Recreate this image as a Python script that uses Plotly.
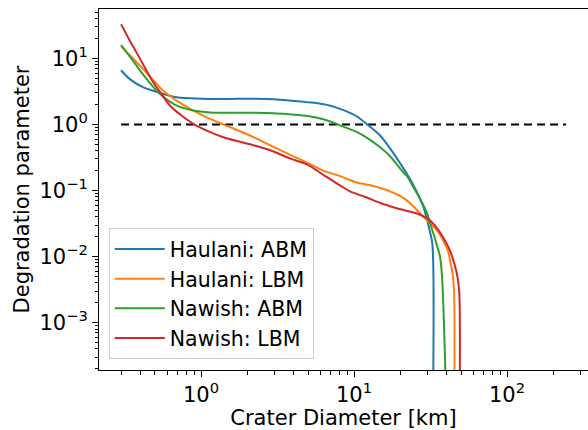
import numpy as np
import plotly.graph_objects as go

# ---- data ----
haulani_abm_x = [0.30, 0.344, 0.42, 0.488, 0.694, 1.0, 1.5, 2.1, 3.0, 3.8, 5.5, 7.0, 8.1, 9.4,
                 10.4, 12.2, 14.8, 17.2, 20.9, 24, 27, 28.5, 29.9, 31.3, 32.5, 32.5]
haulani_abm_y = [6.6, 4.8, 3.63, 3.23, 2.57, 2.45, 2.43, 2.45, 2.4, 2.3, 2.12, 1.92, 1.72, 1.5,
                 1.33, 1.0, 0.68, 0.433, 0.22, 0.13, 0.075, 0.055, 0.037, 0.024, 0.0154, 1e-5]

haulani_lbm_x = [0.30, 0.35, 0.42, 0.49, 0.567, 0.7, 0.89, 1.1, 1.4, 2.09, 2.8, 3.8, 5.0, 6.3, 8.1,
                 10.4, 12.8, 17.2, 20.9, 24, 27, 31, 34.9, 38, 41, 42.4, 44, 45, 45]
haulani_lbm_y = [15.2, 10.6, 6.8, 4.6, 3.23, 2.25, 1.62, 1.27, 1.0, 0.68, 0.49, 0.35, 0.26, 0.2, 0.165,
                 0.132, 0.12, 0.097, 0.078, 0.06, 0.045, 0.033, 0.0248, 0.018, 0.0124, 0.0088, 0.0055,
                 0.0031, 1e-5]

nawish_abm_x = [0.30, 0.354, 0.418, 0.54, 0.694, 0.89, 1.15, 1.6, 2.1, 3.0, 3.8, 5.0, 6.3, 7.7,
                8.1, 10.4, 12.8, 14.8, 17.2, 20.9, 22.2, 24, 27, 29.9, 32, 34.9, 36.5, 37.6, 39.8]
nawish_abm_y = [15.8, 9.6, 5.7, 2.88, 1.92, 1.62, 1.52, 1.5, 1.5, 1.48, 1.42, 1.34, 1.2, 1.02,
                0.966, 0.77, 0.58, 0.45, 0.33, 0.19, 0.165, 0.12, 0.075, 0.046, 0.028, 0.0145, 0.0098,
                0.0049, 1e-4]

nawish_lbm_x = [0.30, 0.34, 0.38, 0.43, 0.488, 0.55, 0.627, 0.75, 0.89, 1.1, 1.4, 1.8, 2.09, 2.8, 3.8,
                5.0, 6.3, 8.0, 9.4, 12.0, 15.0, 19, 23, 27, 31, 34.6, 38, 42.4, 44.6, 47, 48.6, 48.6]
nawish_lbm_y = [33, 19, 12.1, 7.2, 4.3, 2.9, 1.92, 1.35, 1.02, 0.8, 0.64, 0.545, 0.50, 0.41, 0.307,
                0.245, 0.172, 0.122, 0.097, 0.079, 0.064, 0.054, 0.048, 0.043, 0.036, 0.0275, 0.02,
                0.0123, 0.0087, 0.0055, 0.0031, 1e-5]

threshold_x = [0.30, 243]
threshold_y = [1.0, 1.0]

series_names = ["Haulani: ABM", "Haulani: LBM", "Nawish: ABM", "Nawish: LBM"]
series_colors = ["#1f77b4", "#ff7f0e", "#2ca02c", "#d62728"]

x_tick_vals = [1, 10, 100]
x_tick_text = ["10<sup>0</sup>", "10<sup>1</sup>", "10<sup>2</sup>"]
y_tick_vals = [1e-3, 1e-2, 1e-1, 1, 10]
y_tick_text = ["10<sup>\u22123</sup>", "10<sup>\u22122</sup>", "10<sup>\u22121</sup>",
               "10<sup>0</sup>", "10<sup>1</sup>"]

FONT = "DejaVu Sans"
FS = 21

fig = go.Figure()
fig.add_trace(go.Scatter(x=threshold_x, y=threshold_y, mode="lines",
                         line=dict(color="black", width=2, dash="8px,5px"),
                         showlegend=False, hoverinfo="skip"))

all_x = [haulani_abm_x, haulani_lbm_x, nawish_abm_x, nawish_lbm_x]
all_y = [haulani_abm_y, haulani_lbm_y, nawish_abm_y, nawish_lbm_y]
for xs, ys, name, col in zip(all_x, all_y, series_names, series_colors):
    fig.add_trace(go.Scatter(x=xs, y=ys, mode="lines", name=name,
                             line=dict(color=col, width=2, shape="spline", smoothing=0.9)))

minor_x = [m * 10 ** e for e in range(-1, 3) for m in range(2, 10)]
minor_y = [m * 10 ** e for e in range(-4, 2) for m in range(2, 10)]

fig.update_layout(
    width=588, height=430,
    margin=dict(l=99, r=0, t=9, b=56),
    paper_bgcolor="white", plot_bgcolor="white",
    font=dict(family=FONT, size=FS, color="black"),
    legend=dict(x=0.02, y=0.03, xanchor="left", yanchor="bottom",
                bgcolor="rgba(255,255,255,0.8)", bordercolor="#cccccc", borderwidth=1,
                font=dict(size=20.5, family=FONT), itemwidth=50),
    showlegend=True,
)
fig.update_xaxes(
    type="log", range=[-0.667, 2.529],
    tickmode="array", tickvals=x_tick_vals, ticktext=x_tick_text,
    ticks="outside", ticklen=6, tickwidth=1, tickcolor="black",
    minor=dict(tickmode="array", tickvals=minor_x, ticks="outside", ticklen=3.5,
               tickwidth=0.8, tickcolor="black", showgrid=False),
    showline=True, linecolor="black", linewidth=1, mirror=True,
    showgrid=False, zeroline=False,
    title=dict(text="Crater Diameter [km]", font=dict(size=FS, family=FONT), standoff=8),
    tickfont=dict(size=FS, family=FONT),
)
fig.update_yaxes(
    type="log", range=[-3.717, 1.747],
    tickmode="array", tickvals=y_tick_vals, ticktext=y_tick_text,
    ticks="outside", ticklen=6, tickwidth=1, tickcolor="black",
    minor=dict(tickmode="array", tickvals=minor_y, ticks="outside", ticklen=3.5,
               tickwidth=0.8, tickcolor="black", showgrid=False),
    showline=True, linecolor="black", linewidth=1, mirror=False,
    showgrid=False, zeroline=False,
    title=dict(text="Degradation parameter", font=dict(size=FS, family=FONT), standoff=4),
    tickfont=dict(size=FS, family=FONT),
)

fig.write_html("out.html")
